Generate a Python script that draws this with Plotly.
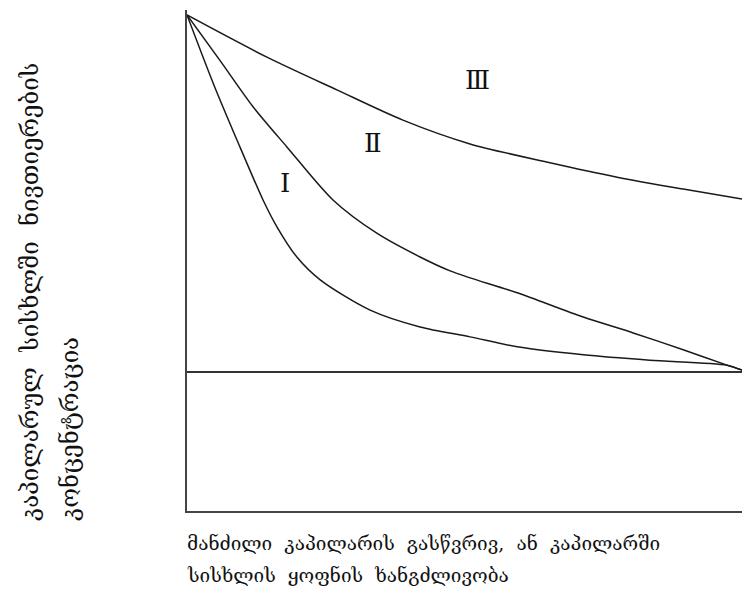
import plotly.graph_objects as go

# Curve data (arbitrary units)
x_I = [0.0, 0.47, 0.90, 1.37, 1.62, 1.98, 2.40, 3.30, 4.20, 5.10, 5.95, 7.14, 8.34, 9.73, 10.0]
y_I = [100.0, 86.3, 74.8, 62.7, 57.3, 51.2, 46.6, 40.5, 37.1, 35.1, 33.1, 31.5, 30.4, 29.4, 28.4]

x_II = [0.0, 0.59, 1.19, 1.80, 2.63, 3.42, 4.20, 4.74, 5.10, 5.95, 7.14, 8.04, 8.94, 9.73, 10.0]
y_II = [100.0, 90.9, 81.5, 73.4, 62.7, 56.0, 51.2, 48.4, 47.0, 44.0, 39.1, 35.9, 32.5, 29.4, 28.4]

x_III = [0.0, 1.44, 2.70, 3.89, 5.10, 6.54, 7.75, 8.94, 10.0]
y_III = [100.0, 91.5, 84.9, 78.8, 74.0, 70.2, 67.3, 64.9, 62.9]

x_base = [0.0, 10.0]
y_base = [28.0, 28.0]

curve_labels = ["Ⅰ", "Ⅱ", "Ⅲ"]
label_x = [1.77, 3.35, 5.24]
label_y = [66.1, 74.2, 86.9]

y_title_lines = ["კაპილარულ  სისხლში  ნივთიერების", "კონცენტრაცია"]
x_title_lines = ["მანძილი  კაპილარის  გასწვრივ,  ან  კაპილარში", "სისხლის  ყოფნის  ხანგძლივობა"]

GEO_FONT = "DejaVu Serif, DejaVu Sans, sans-serif"

fig = go.Figure()
line_style = dict(color="#1a1a1a", width=1.5)
for xs, ys in [(x_I, y_I), (x_II, y_II), (x_III, y_III)]:
    fig.add_trace(go.Scatter(x=xs, y=ys, mode="lines", line=dict(shape="spline", smoothing=0.8, **line_style),
                             hoverinfo="skip", showlegend=False))
fig.add_trace(go.Scatter(x=x_base, y=y_base, mode="lines", line=dict(color="#333333", width=2),
                         hoverinfo="skip", showlegend=False))

for t, lx, ly in zip(curve_labels, label_x, label_y):
    fig.add_annotation(x=lx, y=ly, text=t, showarrow=False,
                       font=dict(family="DejaVu Serif, Liberation Serif, serif", size=26, color="#111111"))

# y title (rotated, two lines, bottom aligned)
ytitle_x = [-0.283, -0.211]
for t, px in zip(y_title_lines, ytitle_x):
    fig.add_annotation(xref="paper", yref="paper", x=px, y=-0.024, text=t, showarrow=False,
                       textangle=-90, xanchor="center", yanchor="bottom",
                       font=dict(family=GEO_FONT, size=24, color="#111111"))

xtitle_y = [-0.0639, -0.1277]
for t, py in zip(x_title_lines, xtitle_y):
    fig.add_annotation(xref="paper", yref="paper", x=-0.004, y=py, text=t, showarrow=False,
                       xanchor="left", yanchor="middle",
                       font=dict(family=GEO_FONT, size=19, color="#111111"))

fig.update_layout(
    width=742, height=589,
    margin=dict(l=187, r=0, t=10, b=78),
    plot_bgcolor="white", paper_bgcolor="white",
    xaxis=dict(range=[0, 10], showline=True, linecolor="#444444", linewidth=2,
               showgrid=False, zeroline=False, showticklabels=False, ticks=""),
    yaxis=dict(range=[0, 101], showline=True, linecolor="#444444", linewidth=2,
               showgrid=False, zeroline=False, showticklabels=False, ticks=""),
)

fig.write_html("out.html", config={"displayModeBar": False},
               post_script="document.body.style.margin='0';document.body.style.overflow='hidden';")
